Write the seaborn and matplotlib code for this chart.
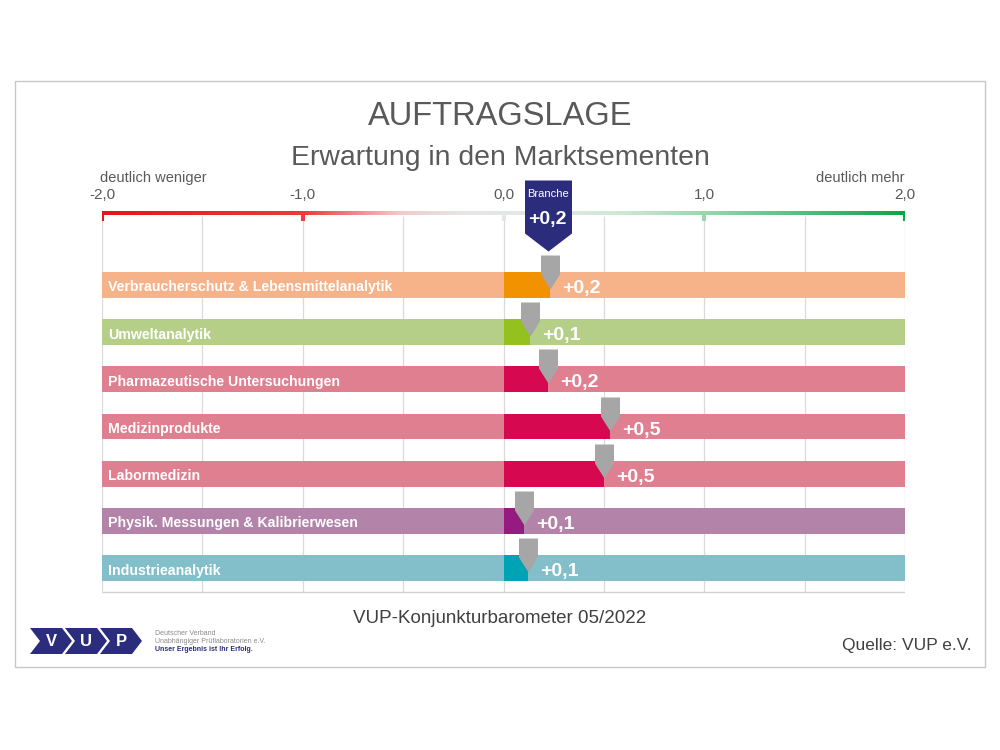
"""Auftragslage - Erwartung in den Marktsegmenten (VUP-Konjunkturbarometer)"""

import numpy as np
import pandas as pd
import matplotlib
matplotlib.use("Agg")
import matplotlib.pyplot as plt
from matplotlib.path import Path
from matplotlib.patches import Rectangle, Polygon
from matplotlib.colors import LinearSegmentedColormap
import seaborn as sns

# Data
segments = ["Verbraucherschutz & Lebensmittelanalytik", "Umweltanalytik",
            "Pharmazeutische Untersuchungen", "Medizinprodukte", "Labormedizin",
            "Physik. Messungen & Kalibrierwesen", "Industrieanalytik"]
values = [0.23, 0.13, 0.22, 0.53, 0.50, 0.10, 0.12]
branche = 0.22
bar_colors = ["#F39200", "#95C11F", "#D50850", "#D50850", "#D50850", "#951B81", "#00A3B4"]
track_colors = ["#F6B38A", "#B5CF88", "#E07F8F", "#E07F8F", "#E07F8F", "#B383AA", "#82BFCB"]
tick_values = [-2, -1, 0, 1, 2]
tick_labels = ["-2,0", "-1,0", "0,0", "1,0", "2,0"]


def fmt(v):
    return f"{v:+.1f}".replace(".", ",")


sns.set_theme(style="white")
plt.rcParams['font.family'] = ['Liberation Sans', 'DejaVu Sans']

fig = plt.figure(figsize=(10, 7.5), dpi=100)
fig.patch.set_facecolor("white")
ax = fig.add_axes([0.102, 0, 0.803, 1])

ROW0, ROWPX = 285, 47.17


def row(py):
    # pixel (from top) -> row units
    return (py - ROW0) / ROWPX


def fx(px):
    return px / 1000


def fy(py):
    return 1 - py / 750


n = len(segments)
rows = np.arange(n)

# background tracks + value bars
ax.barh(rows, 4, left=-2, height=0.55, color=track_colors, lw=0, zorder=1)
df = pd.DataFrame({"segment": segments, "value": values})
sns.barplot(data=df, x="value", y="segment", hue="segment",
            palette=dict(zip(segments, bar_colors)), orient="h", width=0.55,
            saturation=1, errorbar=None, legend=False, linewidth=0, zorder=2, ax=ax)

# grid
ax.vlines(np.arange(-2, 2.01, 0.5), row(216), row(592), color="#DADADA", lw=0.9, zorder=0)
ax.hlines(row(592), -2, 2, color="#D0D0D0", lw=1, zorder=0)

# colour scale on top
cmap = LinearSegmentedColormap.from_list("scale", [
    (0.0, "#E8141C"), (0.25, "#EE3A40"), (0.37, "#F3CACB"), (0.45, "#E6E6E6"),
    (0.55, "#E3E8E4"), (0.65, "#CDE8D5"), (0.75, "#9DD6AF"), (1.0, "#0DA548")])
ax.imshow(np.linspace(0, 1, 400)[None, :], cmap=cmap, extent=[-2, 2, row(215), row(211.5)],
          aspect="auto", interpolation="bilinear", zorder=1)
ax.vlines(tick_values, row(211), row(221), colors=[cmap((t + 2) / 4) for t in tick_values],
          lw=2.9, zorder=2)
for t, lbl in zip(tick_values, tick_labels):
    ax.text(t, row(199), lbl, ha="center", va="baseline", fontsize=11, color="#595959")
ax.text(-2.01, row(182), "deutlich weniger", ha="left", va="baseline", fontsize=10.5, color="#595959")
ax.text(2.0, row(182), "deutlich mehr", ha="right", va="baseline", fontsize=10.5, color="#595959")

# segment names
for i, name in enumerate(segments):
    ax.text(-2 + 0.03, i + 6.5 / ROWPX, name, ha="left", va="baseline", fontsize=10.2,
            fontweight="bold", color="white", zorder=5)

# grey pointers on bar ends
pointer = Path([(0, 0), (-9.5, 15), (-9.5, 34), (9.5, 34), (9.5, 15), (0, 0)],
               [Path.MOVETO] + [Path.LINETO] * 4 + [Path.CLOSEPOLY])
ax.plot(values, rows + 4 / ROWPX, ls="none", marker=pointer, ms=34 * 0.72 * 2,
        color="#A6A6A6", mec="none", zorder=4)
for i, v in enumerate(values):
    ax.annotate(fmt(v), (v, i + 8 / ROWPX), xytext=(9, 0), textcoords="offset points",
                ha="left", va="baseline", fontsize=14, fontweight="bold", color="white", zorder=5)

# Branche pointer
bpath = Path([(0, 0), (-23.5, 18), (-23.5, 71), (23.5, 71), (23.5, 18), (0, 0)],
             [Path.MOVETO] + [Path.LINETO] * 4 + [Path.CLOSEPOLY])
ax.plot([branche], [row(251)], ls="none", marker=bpath, ms=71 * 0.72 * 2,
        color="#2B2D7C", mec="none", zorder=6)
ax.text(branche, row(197), "Branche", ha="center", va="baseline", fontsize=8, color="white", zorder=7)
ax.text(branche, row(224), fmt(branche), ha="center", va="baseline", fontsize=14,
        fontweight="bold", color="white", zorder=7)

ax.set_xlim(-2, 2)
ax.set_ylim(row(750), row(0))
ax.axis("off")

# frame and titles
fig.add_artist(Rectangle((fx(15), fy(667)), 970 / 1000, 586 / 750, transform=fig.transFigure,
                         fill=False, ec="#C8C8C8", lw=1))
fig.text(0.5, fy(125), "AUFTRAGSLAGE", ha="center", va="baseline", fontsize=23.5, color="#595959")
fig.text(0.5, fy(165), "Erwartung in den Marktsementen", ha="center", va="baseline",
         fontsize=20.4, color="#595959")
fig.text(0.5, fy(623), "VUP-Konjunkturbarometer 05/2022", ha="center", va="baseline",
         fontsize=13.5, color="#404040")
fig.text(fx(972), fy(650), "Quelle: VUP e.V.", ha="right", va="baseline", fontsize=12.5, color="#404040")

# logo
navy = "#2B2D7C"
w, d = 32, 10
for x0, letter in zip([30, 65, 100], ["V", "U", "P"]):
    pts = [(x0, 628), (x0 + w, 628), (x0 + w + d, 641), (x0 + w, 654), (x0, 654), (x0 + d, 641)]
    fig.add_artist(Polygon([(fx(x), fy(y)) for x, y in pts], closed=True, transform=fig.transFigure,
                           fc=navy, ec="none"))
    fig.text(fx(x0 + 21), fy(641), letter, ha="center", va="center", fontsize=12,
             fontweight="bold", color="white")
fig.text(fx(155), fy(635), "Deutscher Verband", fontsize=5, color="#8A8A8A", va="baseline")
fig.text(fx(155), fy(643), "Unabhängiger Prüflaboratorien e.V.", fontsize=5, color="#8A8A8A", va="baseline")
fig.text(fx(155), fy(651), "Unser Ergebnis ist Ihr Erfolg.", fontsize=5, color=navy,
         fontweight="bold", va="baseline")

fig.savefig("out.png", dpi=100)
